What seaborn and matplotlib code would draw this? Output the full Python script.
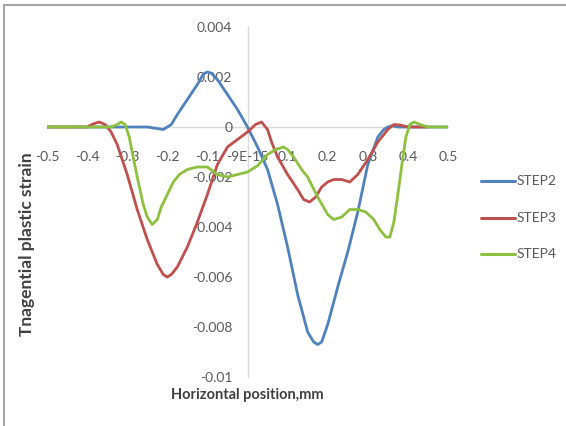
import numpy as np
import pandas as pd
import matplotlib
matplotlib.use("Agg")
import matplotlib.pyplot as plt
from matplotlib.patches import Rectangle
import seaborn as sns

# ---- data ----
step2_x = [-0.5, -0.25, -0.23, -0.21, -0.19, -0.175, -0.15, -0.125, -0.11, -0.1,
           -0.09, -0.075, -0.05, -0.025, 0.0, 0.025, 0.05, 0.075, 0.1, 0.125,
           0.15, 0.165, 0.175, 0.185, 0.2, 0.225, 0.25, 0.275, 0.3, 0.325,
           0.34, 0.35, 0.36, 0.375, 0.5]
step2_y = [0, 0, -0.00005, -0.0001, 0.0001, 0.0005, 0.0011, 0.0017, 0.00212, 0.0022,
           0.00215, 0.0019, 0.0013, 0.0007, 0.0, -0.0008, -0.0017, -0.0031, -0.0048, -0.0067,
           -0.0082, -0.0086, -0.0087, -0.0086, -0.0079, -0.0064, -0.0050, -0.0034, -0.0015, -0.0004,
           -0.0001, 0.0, 0.00005, 0.0, 0]

step3_x = [-0.5, -0.4, -0.385, -0.37, -0.355, -0.34, -0.325, -0.3, -0.275, -0.25,
           -0.225, -0.21, -0.2, -0.19, -0.175, -0.15, -0.125, -0.1, -0.075, -0.05,
           -0.025, 0.0, 0.02, 0.035, 0.05, 0.06, 0.075, 0.1, 0.125, 0.14,
           0.155, 0.17, 0.185, 0.2, 0.215, 0.235, 0.255, 0.275, 0.3, 0.325,
           0.35, 0.365, 0.38, 0.4, 0.45]
step3_y = [0, 0, 0.00012, 0.0002, 0.0001, -0.0002, -0.0007, -0.0019, -0.0033, -0.0045,
           -0.0055, -0.0059, -0.0060, -0.0059, -0.0056, -0.0048, -0.0038, -0.0027, -0.0015, -0.0008,
           -0.0005, -0.0002, 0.0001, 0.0002, -0.0001, -0.0006, -0.0012, -0.0019, -0.0025, -0.0029,
           -0.0030, -0.0028, -0.0024, -0.0022, -0.0021, -0.0021, -0.0022, -0.0019, -0.0013, -0.0006,
           -0.0001, 0.0001, 0.00008, 0.0, 0.0]

step4_x = [-0.5, -0.34, -0.325, -0.315, -0.305, -0.295, -0.285, -0.275, -0.26, -0.25,
           -0.2375, -0.225, -0.215, -0.2, -0.185, -0.17, -0.15, -0.125, -0.1, -0.075,
           -0.05, -0.025, 0.0, 0.025, 0.05, 0.07, 0.09, 0.1, 0.115, 0.135,
           0.15, 0.175, 0.2, 0.215, 0.235, 0.255, 0.275, 0.295, 0.315, 0.33,
           0.345, 0.355, 0.365, 0.375, 0.385, 0.395, 0.405, 0.415, 0.43, 0.45,
           0.5]
step4_y = [0, 0, 0.0001, 0.0002, 0.0001, -0.0004, -0.0012, -0.0020, -0.0031, -0.0036,
           -0.0039, -0.0037, -0.0032, -0.0027, -0.0022, -0.0019, -0.0017, -0.0016, -0.0016, -0.0019,
           -0.0020, -0.0019, -0.0018, -0.00155, -0.0011, -0.0009, -0.0008, -0.0009, -0.0012, -0.0017,
           -0.0020, -0.0028, -0.0035, -0.0037, -0.0036, -0.0033, -0.0033, -0.0034, -0.0037, -0.0041,
           -0.0044, -0.0044, -0.0038, -0.0027, -0.0015, -0.0004, 0.0001, 0.0002, 0.0001, 0.0,
           0]

series_names = ["STEP2", "STEP3", "STEP4"]
series_colors = ["#4F81BD", "#C0504D", "#8DC03F"]

x_ticks = [-0.5, -0.4, -0.3, -0.2, -0.1, 0.0, 0.1, 0.2, 0.3, 0.4, 0.5]
x_tick_labels = ["-0.5", "-0.4", "-0.3", "-0.2", "-0.1", "-9E-15", "0.1", "0.2", "0.3", "0.4", "0.5"]
y_ticks = [-0.01, -0.008, -0.006, -0.004, -0.002, 0.0, 0.002, 0.004]
y_tick_labels = ["-0.01", "-0.008", "-0.006", "-0.004", "-0.002", "0", "0.002", "0.004"]

x_title = "Horizontal position,mm"
y_title = "Tnagential plastic strain"

# ---- build long table ----
frames = []
for name, xs, ys in zip(series_names, [step2_x, step3_x, step4_x], [step2_y, step3_y, step4_y]):
    frames.append(pd.DataFrame({"x": xs, "y": ys, "series": name}))
df = pd.concat(frames, ignore_index=True)

sns.set_theme(style="white")
plt.rcParams["font.family"] = ["Lato", "DejaVu Sans"]

W, H = 566, 426
fig = plt.figure(figsize=(W / 100, H / 100), dpi=100)
ax = fig.add_axes([47 / W, 1 - 377 / H, (448 - 47) / W, (377 - 27) / H])

sns.lineplot(data=df, x="x", y="y", hue="series", hue_order=series_names,
             palette=series_colors, linewidth=2.0, sort=False, ax=ax, legend=False)
for ln in ax.get_lines():
    ln.set_solid_joinstyle("round")
    ln.set_solid_capstyle("round")

ax.set_xlim(-0.5, 0.5)
ax.set_ylim(-0.01, 0.004)
ax.set_xticks(x_ticks)
ax.set_xticklabels(x_tick_labels)
ax.set_yticks(y_ticks)
ax.set_yticklabels(y_tick_labels)
ax.set_xlabel("")
ax.set_ylabel("")

for s in ["top", "right"]:
    ax.spines[s].set_visible(False)
ax.spines["left"].set_position(("data", 0))
ax.spines["bottom"].set_position(("data", 0))
for s in ["left", "bottom"]:
    ax.spines[s].set_color("#D9D9D9")
    ax.spines[s].set_linewidth(1.0)
    ax.spines[s].set_zorder(0)

ax.tick_params(axis="x", length=0, pad=17, labelsize=10, labelcolor="#595959")
ax.tick_params(axis="y", length=0, pad=11, labelsize=10, labelcolor="#595959")
ax.patch.set_alpha(0)

# axis titles
fig.text(247 / W, 1 - 395 / H, x_title, ha="center", va="center",
         fontsize=10.5, fontweight="bold", color="#404040")
fig.text(27 / W, 1 - 244 / H, y_title, ha="center", va="center", rotation=90,
         fontsize=12.5, fontweight="bold", color="#404040")

# legend (drawn manually in figure coordinates)
leg_y = [181, 218, 254]
for name, col, yy in zip(series_names, series_colors, leg_y):
    fig.add_artist(plt.Line2D([481 / W, 515 / W], [1 - yy / H, 1 - yy / H],
                              color=col, linewidth=2.2, transform=fig.transFigure))
    fig.text(517 / W, 1 - yy / H, name, ha="left", va="center",
             fontsize=10, color="#595959")

# chart border
fig.add_artist(Rectangle((4 / W, -0.1), 1.2, 1 - 5 / H + 0.1, transform=fig.transFigure,
                         fill=False, edgecolor="#A6A6A6", linewidth=1.5))

fig.savefig("out.png", dpi=100)
